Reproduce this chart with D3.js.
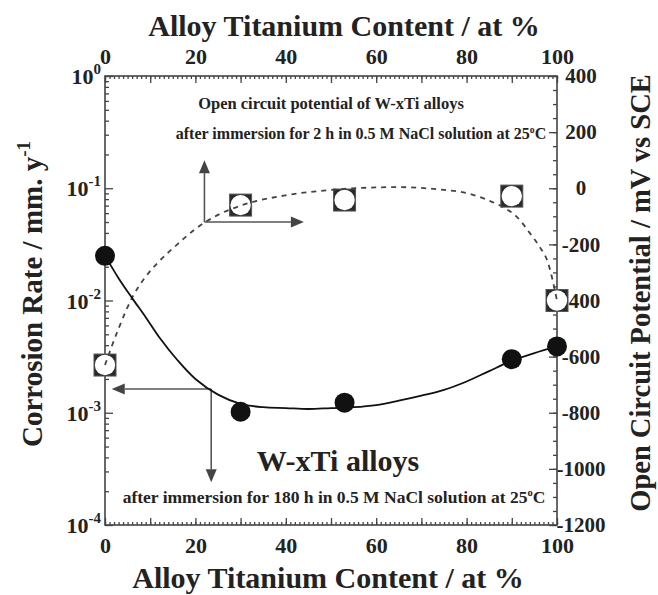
<!DOCTYPE html>
<html>
<head>
<meta charset="utf-8">
<title>W-xTi alloys</title>
<style>
  body { margin: 0; background: #fff; }
  text { font-family: "Liberation Serif", "Times New Roman", serif; font-weight: bold; fill: #222; }
</style>
</head>
<body>
<script src="https://cdn.jsdelivr.net/npm/d3@7"></script>
<svg id="chart" width="658" height="595"></svg>
<script>
    // measured points
    var rateContent = [0, 30, 53, 90, 100];
    var corrosionRate = [0.025, 0.00102, 0.00123, 0.0030, 0.0039];
    var ocpContent = [0, 30, 53, 90, 100];
    var ocpValues = [-630, -60, -42, -28, -400];

    // fitted curves
    var rateFitX = [0, 3, 6, 9, 12, 16, 20, 25, 30, 35, 40, 45, 50, 55, 60, 65, 70, 75, 80, 85, 90, 95, 100];
    var rateFitY = [0.0251, 0.0158, 0.0105, 0.0071, 0.0047, 0.00295, 0.0020, 0.00145, 0.0012, 0.00112, 0.0011, 0.00108, 0.0011,
                    0.00112, 0.00117, 0.00128, 0.00142, 0.0016, 0.0019, 0.00235, 0.0029, 0.0034, 0.0039];
    var ocpFitX = [0, 3, 6, 9, 12, 16, 20, 25, 30, 40, 50, 60, 65, 70, 75, 80, 84, 88, 91, 94, 96, 98, 100];
    var ocpFitY = [-630, -500, -390, -315, -260, -200, -145, -95, -62, -25, -6, 3, 4, 1, -6, -17, -38, -67, -100, -160, -205, -265, -400];

    // tick labels
    var xTickLabels = [0, 20, 40, 60, 80, 100];
    var rateTicks = [1e-4, 1e-3, 1e-2, 1e-1, 1];
    var ocpTicks = [-1200, -1000, -800, -600, -400, -200, 0, 200, 400];

    var svg = d3.select("#chart");
    var pLeft = 105, pRight = 557, pTop = 76, pBottom = 525;

    var x = d3.scaleLinear().domain([0, 100]).range([pLeft, pRight]);
    var yL = d3.scaleLog().domain([1e-4, 1]).range([pBottom, pTop]);
    var yR = d3.scaleLinear().domain([-1200, 400]).range([pBottom, pTop]);

    svg.append("rect").attr("width", 658).attr("height", 595).attr("fill", "#fff");

    function ticks(axis, transform) {
        return svg.append("g")
            .attr("transform", transform)
            .attr("color", "#444")
            .call(axis)
            .call(function(g) { g.select(".domain").remove(); })
            .call(function(g) { g.selectAll("line").attr("stroke-width", 1.3); });
    }

    // top & bottom ticks (inside)
    var minorX = d3.range(0, 101, 1), majorX = d3.range(0, 101, 10);
    ticks(d3.axisBottom(x).tickValues(minorX).tickSize(-3).tickFormat(""), "translate(0," + pBottom + ")");
    ticks(d3.axisBottom(x).tickValues(majorX).tickSize(-7).tickFormat(""), "translate(0," + pBottom + ")");
    ticks(d3.axisTop(x).tickValues(minorX).tickSize(-3).tickFormat(""), "translate(0," + pTop + ")");
    ticks(d3.axisTop(x).tickValues(majorX).tickSize(-7).tickFormat(""), "translate(0," + pTop + ")");

    var bl = ticks(d3.axisBottom(x).tickValues(xTickLabels).tickSize(0).tickPadding(12), "translate(0," + pBottom + ")");
    bl.selectAll("text").style("font-size", "22px");
    var tl = ticks(d3.axisTop(x).tickValues(xTickLabels).tickSize(0).tickPadding(12), "translate(0," + pTop + ")");
    tl.selectAll("text").style("font-size", "22px");

    // left log axis
    var minorL = [];
    rateTicks.slice(0, -1).forEach(function(d) {
        for (var k = 2; k < 10; k++) minorL.push(d * k);
    });
    ticks(d3.axisLeft(yL).tickValues(minorL).tickSize(-4).tickFormat(""), "translate(" + pLeft + ",0)");
    ticks(d3.axisLeft(yL).tickValues(rateTicks).tickSize(-8).tickFormat(""), "translate(" + pLeft + ",0)");

    rateTicks.forEach(function(d) {
        var t = svg.append("text")
            .attr("x", 101)
            .attr("y", yL(d) + 8)
            .attr("text-anchor", "end")
            .style("font-size", "22px")
            .text("10");
        t.append("tspan")
            .attr("dy", -10)
            .style("font-size", "15px")
            .text(Math.round(Math.log10(d)));
    });

    // right linear axis
    ticks(d3.axisRight(yR).tickValues(d3.range(-1200, 401, 50)).tickSize(-4).tickFormat(""), "translate(" + pRight + ",0)");
    ticks(d3.axisRight(yR).tickValues(ocpTicks).tickSize(-8).tickFormat(""), "translate(" + pRight + ",0)");
    var rl = ticks(d3.axisRight(yR).tickValues(ocpTicks).tickSize(0)
                     .tickFormat(function(d) { return String(d); }), "translate(" + pRight + ",0)");
    rl.selectAll("text").attr("text-anchor", "middle").attr("x", 24).style("font-size", "21px");

    // frame
    svg.append("rect")
        .attr("x", pLeft).attr("y", pTop)
        .attr("width", pRight - pLeft).attr("height", pBottom - pTop)
        .attr("fill", "none").attr("stroke", "#444").attr("stroke-width", 1.6);

    // axis titles
    svg.append("text").attr("x", 344).attr("y", 36).attr("text-anchor", "middle")
        .style("font-size", "30px").text("Alloy Titanium Content / at %");
    svg.append("text").attr("x", 328).attr("y", 588).attr("text-anchor", "middle")
        .style("font-size", "30px").text("Alloy Titanium Content / at %");

    var lt = svg.append("text")
        .attr("transform", "translate(42,294) rotate(-90)")
        .attr("text-anchor", "middle")
        .style("font-size", "29px")
        .text("Corrosion Rate / mm. y");
    lt.append("tspan").attr("dy", -12).style("font-size", "19px").text("-1");

    svg.append("text")
        .attr("transform", "translate(650,293) rotate(-90)")
        .attr("text-anchor", "middle")
        .style("font-size", "28.5px")
        .text("Open Circuit Potential / mV vs SCE");

    // annotations
    function degText(xp, yp, size, before) {
        var t = svg.append("text").attr("x", xp).attr("y", yp).attr("text-anchor", "middle")
            .style("font-size", size + "px").text(before);
        t.append("tspan").attr("dy", -size * 0.4).style("font-size", (size * 0.6) + "px").text("o");
        t.append("tspan").attr("dy", size * 0.4).text("C");
    }
    svg.append("text").attr("x", 331).attr("y", 109).attr("text-anchor", "middle")
        .style("font-size", "16.5px").text("Open circuit potential of W-xTi alloys");
    degText(361, 139, 16, "after immersion for 2 h in 0.5 M NaCl solution at 25");
    degText(334, 503, 17.5, "after immersion for 180 h in 0.5 M NaCl solution at 25");
    svg.append("text").attr("x", 338).attr("y", 471).attr("text-anchor", "middle")
        .style("font-size", "30px").text("W-xTi alloys");

    // arrows
    function arrow(x1, y1, x2, y2) {
        var a = Math.atan2(y2 - y1, x2 - x1), L = 13, W = 5.5;
        var bx = x2 - L * Math.cos(a), by = y2 - L * Math.sin(a);
        svg.append("line").attr("x1", x1).attr("y1", y1).attr("x2", bx).attr("y2", by)
            .attr("stroke", "#555").attr("stroke-width", 1.6);
        svg.append("path")
            .attr("d", "M" + x2 + "," + y2 +
                       "L" + (bx + W * Math.sin(a)) + "," + (by - W * Math.cos(a)) +
                       "L" + (bx - W * Math.sin(a)) + "," + (by + W * Math.cos(a)) + "Z")
            .attr("fill", "#444");
    }
    // OCP -> right axis
    arrow(x(22), yR(-120), x(22), yR(100));
    arrow(x(22), yR(-120), x(44), yR(-120));
    // corrosion rate -> left axis
    arrow(x(23.5), yL(0.00163), x(1.5), yL(0.00163));
    arrow(x(23.5), yL(0.00163), x(23.5), yL(0.00024));

    // markers: OCP squares
    var sq = svg.append("g").selectAll("g")
        .data(d3.zip(ocpContent, ocpValues))
        .enter().append("g")
        .attr("transform", function(d) { return "translate(" + x(d[0]) + "," + yR(d[1]) + ")"; });
    sq.append("rect").attr("x", -11).attr("y", -11).attr("width", 22).attr("height", 22)
        .attr("fill", "#2a2a2a").attr("stroke", "#555").attr("stroke-width", 1);
    sq.append("circle").attr("r", 10.2).attr("fill", "#fff");

    // fitted lines
    var ocpLine = d3.line()
        .x(function(d) { return x(d[0]); })
        .y(function(d) { return yR(d[1]); })
        .curve(d3.curveMonotoneX);
    svg.append("path")
        .attr("d", ocpLine(d3.zip(ocpFitX, ocpFitY)))
        .attr("fill", "none").attr("stroke", "#444").attr("stroke-width", 1.8)
        .attr("stroke-dasharray", "5,5");

    var rateLine = d3.line()
        .x(function(d) { return x(d[0]); })
        .y(function(d) { return yL(d[1]); })
        .curve(d3.curveCatmullRom);
    svg.append("path")
        .attr("d", rateLine(d3.zip(rateFitX, rateFitY)))
        .attr("fill", "none").attr("stroke", "#111").attr("stroke-width", 1.8);

    // markers: corrosion rate circles
    svg.append("g").selectAll("circle")
        .data(d3.zip(rateContent, corrosionRate))
        .enter().append("circle")
        .attr("cx", function(d) { return x(d[0]); })
        .attr("cy", function(d) { return yL(d[1]); })
        .attr("r", 10)
        .attr("fill", "#111");
</script>
</body>
</html>
